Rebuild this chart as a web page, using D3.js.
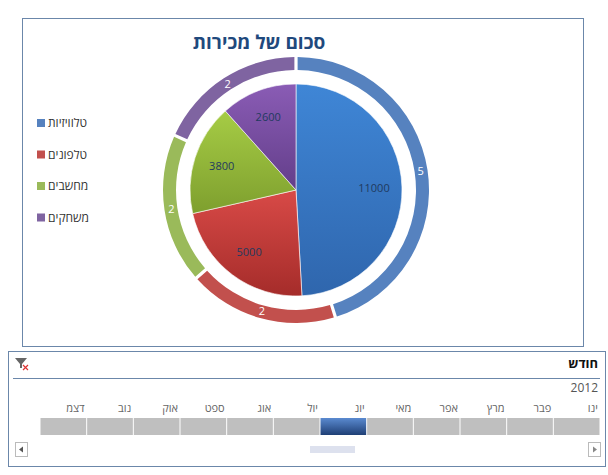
<!DOCTYPE html>
<html><head><meta charset="utf-8">
<script src="https://cdn.jsdelivr.net/npm/d3@7"></script>
<style>body{margin:0;background:#fff;font-family:"Open Sans","DejaVu Sans",sans-serif;}</style>
</head><body><svg id="c" width="608" height="475"></svg>
<script>
var categories = ['טלוויזיות', 'טלפונים', 'מחשבים', 'משחקים'];
var salesSum = [11000, 5000, 3800, 2600];
var salesCount = [5, 2, 2, 2];
var months = ['ינו', 'פבר', 'מרץ', 'אפר', 'מאי', 'יונ', 'יול', 'אוג', 'ספט', 'אוק', 'נוב', 'דצמ'];
var selectedMonth = 5;

var pieColors = [['#3f86d6', '#2f66ad'], ['#d84a47', '#a52c2a'], ['#a6cc45', '#7e9f2e'], ['#8a5cb5', '#633e8a']];
var ringColors = ['#5682bf', '#c2504d', '#9aba5a', '#7f64a1'];

var svg = d3.select('#c');
var defs = svg.append('defs');
pieColors.forEach(function (c, i) {
  var g = defs.append('linearGradient').attr('id', 'g' + i).attr('x1', 0).attr('y1', 0).attr('x2', 0).attr('y2', 1);
  g.append('stop').attr('offset', '0%').attr('stop-color', c[0]);
  g.append('stop').attr('offset', '100%').attr('stop-color', c[1]);
});
var sg = defs.append('linearGradient').attr('id', 'sel').attr('x1', 0).attr('y1', 0).attr('x2', 0).attr('y2', 1);
sg.append('stop').attr('offset', '0%').attr('stop-color', '#5a8ad0');
sg.append('stop').attr('offset', '100%').attr('stop-color', '#1f3f75');

// chart frame
svg.append('rect').attr('x', 22.5).attr('y', 18.5).attr('width', 561).attr('height', 328)
  .attr('fill', '#fff').attr('stroke', '#6b87aa');

svg.append('text').attr('x', 259).attr('y', 49).attr('text-anchor', 'middle')
  .attr('font-size', 19).attr('font-weight', 'bold').attr('fill', '#1f497d').text('סכום של מכירות');

var cx = 296, cy = 190;
var pie = d3.pie().sort(null);
var arc = d3.arc().innerRadius(0).outerRadius(106);
var ring = d3.arc().innerRadius(120).outerRadius(133);
var g = svg.append('g').attr('transform', 'translate(' + cx + ',' + cy + ')');

var ringArcs = pie.padAngle(0.018)(salesCount);
g.selectAll('path.ring').data(ringArcs).enter().append('path').attr('class', 'ring')
  .attr('d', ring).attr('fill', function (d, i) { return ringColors[i]; });
g.selectAll('text.ring').data(ringArcs).enter().append('text').attr('class', 'ring')
  .attr('transform', function (d) { return 'translate(' + d3.arc().innerRadius(126).outerRadius(126).centroid(d) + ')'; })
  .attr('text-anchor', 'middle').attr('dy', '0.35em').attr('font-size', 11).attr('fill', '#fff')
  .text(function (d) { return d.data; });

var pieArcs = d3.pie().sort(null)(salesSum);
g.selectAll('path.pie').data(pieArcs).enter().append('path').attr('class', 'pie')
  .attr('d', arc).attr('fill', function (d, i) { return 'url(#g' + i + ')'; })
  .attr('stroke', '#fff').attr('stroke-width', 0.6);
var lab = d3.arc().innerRadius(140).outerRadius(140);
g.selectAll('text.pie').data(pieArcs).enter().append('text').attr('class', 'pie')
  .attr('transform', function (d) { var c = d3.arc().innerRadius(78).outerRadius(78).centroid(d); return 'translate(' + c + ')'; })
  .attr('text-anchor', 'middle').attr('dy', '0.35em').attr('font-size', 11).attr('fill', '#1f3a5f')
  .text(function (d) { return d.data; });

// legend
var leg = svg.append('g');
categories.forEach(function (c, i) {
  var y = 123 + i * 31.5;
  leg.append('rect').attr('x', 37).attr('y', y - 4).attr('width', 8).attr('height', 8).attr('fill', ringColors[i]);
  leg.append('text').attr('x', 48).attr('y', y).attr('dy', '0.35em').attr('font-size', 12).attr('fill', '#333').text(c);
});

// slicer
svg.append('rect').attr('x', 8.5).attr('y', 351.5).attr('width', 597).attr('height', 115)
  .attr('fill', '#fff').attr('stroke', '#6b87aa');
svg.append('text').attr('x', 598).attr('y', 368).attr('text-anchor', 'end').attr('font-size', 13).attr('font-weight', 'bold').attr('fill', '#111').text('חודש');
svg.append('line').attr('x1', 13).attr('x2', 600).attr('y1', 378.5).attr('y2', 378.5).attr('stroke', '#6b87aa');
svg.append('text').attr('x', 598).attr('y', 392).attr('text-anchor', 'end').attr('font-size', 12).attr('fill', '#555').text('2012');
// filter icon
svg.append('path').attr('d', 'M15,358 L27,358 L22,364 L22,368 L20,368 L20,364 Z').attr('fill', '#666');
svg.append('path').attr('d', 'M23,365 L28,370 M28,365 L23,370').attr('stroke', '#d33').attr('stroke-width', 1.2);

var x = d3.scaleBand().domain(d3.range(12)).range([600, 40].reverse ? [40, 600] : [40, 600]);
var xr = function (i) { return 600 - (i + 1) * x.bandwidth(); };
svg.selectAll('rect.m').data(months).enter().append('rect').attr('class', 'm')
  .attr('x', function (d, i) { return xr(i) + 0.5; }).attr('y', 418).attr('width', x.bandwidth() - 1).attr('height', 17)
  .attr('fill', function (d, i) { return i === selectedMonth ? 'url(#sel)' : '#bfbfbf'; });
svg.selectAll('text.m').data(months).enter().append('text').attr('class', 'm')
  .attr('x', function (d, i) { return xr(i) + x.bandwidth() - 2; }).attr('y', 412).attr('text-anchor', 'end')
  .attr('font-size', 11).attr('fill', '#666').text(function (d) { return d; });

// scrollbar
svg.append('rect').attr('x', 15.5).attr('y', 442.5).attr('width', 12).attr('height', 14).attr('fill', '#fff').attr('stroke', '#bbb');
svg.append('path').attr('d', 'M19,449.5 L23,446.5 L23,452.5 Z').attr('fill', '#555');
svg.append('rect').attr('x', 588.5).attr('y', 442.5).attr('width', 12).attr('height', 14).attr('fill', '#fff').attr('stroke', '#bbb');
svg.append('path').attr('d', 'M597,449.5 L593,446.5 L593,452.5 Z').attr('fill', '#888');
svg.append('rect').attr('x', 310).attr('y', 446).attr('width', 45).attr('height', 7).attr('fill', '#dde1ee');
</script></body></html>
